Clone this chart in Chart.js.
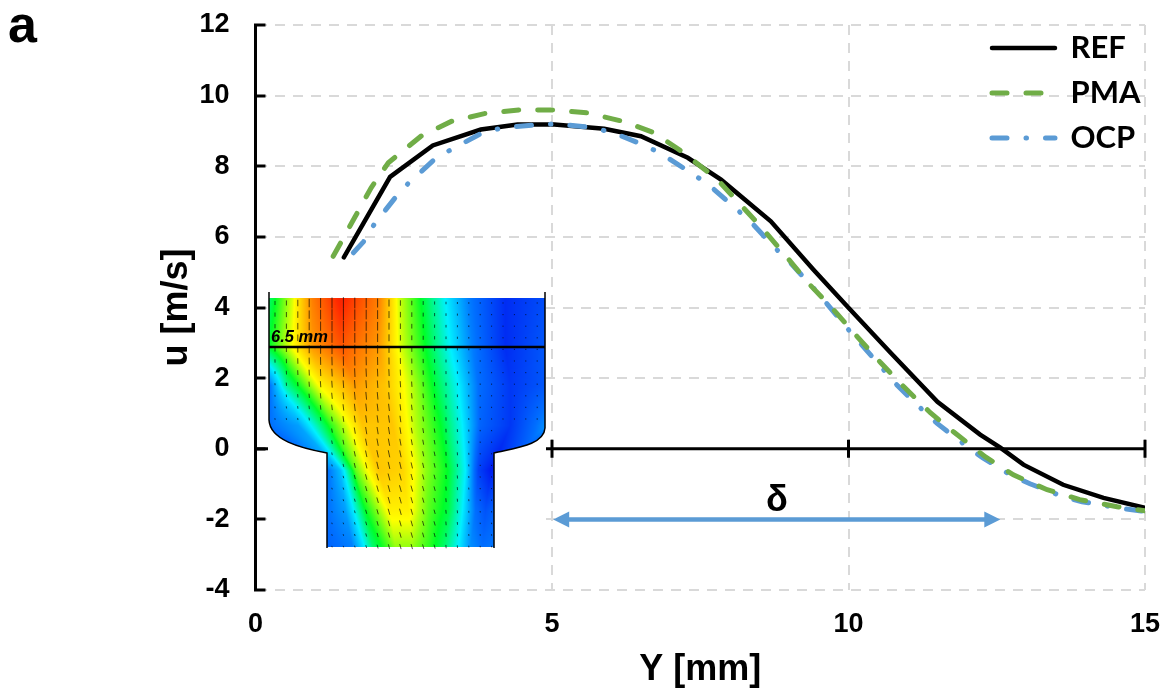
<!DOCTYPE html>
<html>
<head>
<meta charset="utf-8">
<style>
  html, body { margin: 0; padding: 0; background: #fff; }
  #chart { display: block; }
</style>
<script src="https://cdn.jsdelivr.net/npm/chart.js@4/dist/chart.umd.min.js"></script>
</head>
<body>
<canvas id="chart" width="1163" height="690"></canvas>
<script>
var refY = [1.49, 2.27, 2.99, 3.8, 4.42, 5.04, 5.88, 6.5, 7.29, 7.85, 8.69, 9.41, 10, 10.71, 11.5, 12.22, 12.56, 12.95, 13.62, 14.3, 15];
var refU = [5.42, 7.7, 8.59, 9.04, 9.18, 9.18, 9.06, 8.85, 8.24, 7.62, 6.44, 5.07, 3.99, 2.72, 1.33, 0.4, 0.03, -0.45, -1.02, -1.39, -1.67];
var pmaY = [1.31, 1.67, 1.95, 2.24, 2.79, 3.3, 3.86, 4.48, 5.04, 5.6, 6.2, 6.72, 7.22, 7.79, 8.52, 8.97, 9.3, 9.7, 10.15, 10.54, 10.93, 11.38, 11.77, 12.31, 12.78, 13.35, 13.9, 14.53, 15];
var pmaU = [5.45, 6.54, 7.39, 8.1, 8.85, 9.27, 9.49, 9.6, 9.59, 9.51, 9.27, 8.95, 8.38, 7.62, 6.29, 5.41, 4.73, 4.03, 3.17, 2.44, 1.76, 1.02, 0.48, -0.23, -0.74, -1.16, -1.44, -1.64, -1.76];
var ocpY = [1.65, 1.82, 2.0, 2.37, 2.59, 3.05, 3.33, 3.86, 4.19, 4.76, 5.1, 5.69, 6.03, 6.58, 6.87, 7.39, 7.64, 8.35, 8.74, 9, 9.39, 9.61, 10, 10.22, 10.62, 10.83, 11.26, 11.5, 12, 12.26, 12.73, 13.06, 13.62, 13.94, 14.53, 15];
var ocpU = [5.55, 5.86, 6.35, 7.14, 7.54, 8.24, 8.5, 8.98, 9.09, 9.18, 9.2, 9.09, 8.95, 8.58, 8.33, 7.76, 7.48, 6.43, 5.72, 5.3, 4.59, 4.16, 3.37, 2.95, 2.18, 1.78, 1.08, 0.71, 0.06, -0.25, -0.74, -0.99, -1.36, -1.5, -1.67, -1.78];

var deltaStart = 5.02;
var deltaEnd = 12.56;
var deltaLevel = -2;

function points(xs, ys) {
    return xs.map(function (x, i) { return { x: x, y: ys[i] }; });
}

// colour field of the inset, one row of contour knots per height
var fieldRows = [
    [298, [269, 292, 312, 340, 378, 398, 420, 445, 468, 505, 545], [.46, .62, .82, .97, .82, .62, .5, .36, .22, .08, .14]],
    [347, [269, 292, 312, 340, 378, 400, 425, 450, 472, 505, 545], [.5, .64, .78, .88, .78, .62, .5, .36, .22, .08, .16]],
    [385, [269, 285, 320, 355, 385, 408, 432, 458, 478, 510, 545], [.2, .42, .65, .78, .72, .62, .5, .36, .2, .1, .16]],
    [425, [269, 298, 330, 362, 392, 415, 440, 462, 480, 510, 545], [.2, .26, .52, .72, .72, .6, .5, .36, .18, .1, .24]],
    [470, [327, 340, 355, 378, 402, 425, 447, 465, 478, 490, 500], [.2, .3, .55, .72, .7, .58, .5, .36, .12, .05, .1]],
    [510, [327, 345, 365, 390, 408, 428, 448, 462, 475, 485, 500], [.2, .26, .5, .66, .66, .55, .48, .36, .2, .15, .2]],
    [547, [327, 352, 372, 395, 412, 430, 445, 458, 470, 482, 500], [.18, .22, .45, .58, .58, .52, .45, .36, .24, .2, .22]]
];
var jetStops = [
    [0, 0, 0, 235], [.2, 0, 110, 255], [.36, 0, 240, 255], [.5, 0, 255, 40],
    [.64, 255, 255, 0], [.8, 255, 140, 0], [.95, 255, 40, 0], [1, 240, 30, 0]
];

function jet(v) {
    for (var i = 1; i < jetStops.length; i++) {
        if (v <= jetStops[i][0]) {
            var a = jetStops[i - 1], b = jetStops[i];
            var t = (v - a[0]) / (b[0] - a[0]);
            return 'rgb(' + [1, 2, 3].map(function (k) { return Math.round(a[k] + (b[k] - a[k]) * t); }).join(',') + ')';
        }
    }
    return 'rgb(240,30,0)';
}

function fieldAt(x, y) {
    var r = 0;
    while (r < fieldRows.length - 2 && y > fieldRows[r + 1][0]) r++;
    var t = Math.max(0, Math.min(1, (y - fieldRows[r][0]) / (fieldRows[r + 1][0] - fieldRows[r][0])));
    var xs = fieldRows[r][1].map(function (v, i) { return v + (fieldRows[r + 1][1][i] - v) * t; });
    var vs = fieldRows[r][2].map(function (v, i) { return v + (fieldRows[r + 1][2][i] - v) * t; });
    if (x <= xs[0]) return vs[0];
    for (var i = 1; i < xs.length; i++) {
        if (x <= xs[i]) return vs[i - 1] + (vs[i] - vs[i - 1]) * (x - xs[i - 1]) / (xs[i] - xs[i - 1]);
    }
    return vs[vs.length - 1];
}

function insetPath(ctx) {
    ctx.beginPath();
    ctx.moveTo(269, 298);
    ctx.lineTo(269, 420);
    ctx.bezierCurveTo(270, 440, 300, 448, 327, 453);
    ctx.lineTo(327, 547);
    ctx.lineTo(494, 547);
    ctx.lineTo(494, 453);
    ctx.bezierCurveTo(515, 448, 544, 445, 545, 428);
    ctx.lineTo(545, 298);
    ctx.closePath();
}

// drop the room chart.js keeps for tick labels that hang over the plot edge
function noOverhang(s) {
    s.paddingTop = 0;
    s.paddingBottom = 0;
    s.paddingLeft = 0;
    s.paddingRight = 0;
}

// with point styles the legend reads the point, so take the line style from the dataset
function legendLabels(chart) {
    var items = Chart.defaults.plugins.legend.labels.generateLabels(chart);
    items.forEach(function (item) {
        var ds = chart.data.datasets[item.datasetIndex];
        item.lineDash = ds.borderDash || [];
        item.lineWidth = ds.borderWidth;
        item.lineCap = ds.borderCapStyle;
        item.strokeStyle = ds.borderColor;
    });
    return items;
}

var insetPlugin = {
    id: 'inset',
    afterLayout: function (chart) {
        // legend sits in the top right corner of the plot
        var l = chart.legend;
        l.left = 978;
        l.top = 18.5;
    },
    beforeDatasetsDraw: function (chart) {
        var ctx = chart.ctx, sx = chart.scales.x, sy = chart.scales.y;
        var zero = sy.getPixelForValue(0);
        ctx.save();

        // x axis line running through u = 0
        ctx.strokeStyle = '#000';
        ctx.lineWidth = 3;
        ctx.beginPath();
        ctx.moveTo(sx.left, zero);
        ctx.lineTo(sx.right, zero);
        [5, 10, 15].forEach(function (v) {
            var px = sx.getPixelForValue(v);
            ctx.moveTo(px, zero - 9);
            ctx.lineTo(px, zero + 9);
        });
        ctx.stroke();

        // inset picture has a white backing that hides the grid
        ctx.fillStyle = '#fff';
        ctx.fillRect(268, 288, 278, 266);

        ctx.save();
        insetPath(ctx);
        ctx.clip();
        for (var y = 298; y < 548; y++) {
            for (var x = 269; x < 546; x++) {
                ctx.fillStyle = jet(fieldAt(x, y));
                ctx.fillRect(x, y, 1, 1);
            }
        }
        ctx.restore();

        // velocity arrows
        ctx.strokeStyle = 'rgba(0,0,0,0.65)';
        ctx.lineWidth = 1;
        ctx.beginPath();
        for (var qy = 303; qy < 552; qy += 11.6) {
            for (var qx = 275; qx < 542; qx += 11.4) {
                var inShape = qy < 425 || (qx > 327 && qx < 494);
                if (!inShape) continue;
                var v = fieldAt(qx, qy);
                var len = 1 + Math.pow(v, 2) * 12;
                var tilt = qy > 350 ? Math.min(0.28, (qy - 350) / 500) * (qx < 440 ? 1 : 0.3) : 0;
                ctx.moveTo(qx - tilt * len / 2, qy - len / 2);
                ctx.lineTo(qx + tilt * len / 2, qy + len / 2);
            }
        }
        ctx.stroke();

        // outline
        ctx.strokeStyle = '#000';
        ctx.lineWidth = 1.5;
        ctx.beginPath();
        ctx.moveTo(269, 292);
        ctx.lineTo(269, 420);
        ctx.bezierCurveTo(270, 440, 300, 448, 327, 453);
        ctx.lineTo(327, 548);
        ctx.moveTo(545, 292);
        ctx.lineTo(545, 428);
        ctx.bezierCurveTo(544, 445, 515, 448, 494, 453);
        ctx.lineTo(494, 548);
        ctx.stroke();

        ctx.lineWidth = 2.5;
        ctx.beginPath();
        ctx.moveTo(269, 347);
        ctx.lineTo(545, 347);
        ctx.stroke();

        ctx.fillStyle = '#000';
        ctx.font = 'italic bold 16.5px "Liberation Sans"';
        ctx.textAlign = 'left';
        ctx.textBaseline = 'alphabetic';
        ctx.fillText('6.5 mm', 271, 342);
        ctx.restore();
    },
    afterDatasetsDraw: function (chart) {
        var ctx = chart.ctx, sx = chart.scales.x, sy = chart.scales.y;
        var x1 = sx.getPixelForValue(deltaStart), x2 = sx.getPixelForValue(deltaEnd);
        var y0 = sy.getPixelForValue(deltaLevel);
        ctx.save();
        ctx.strokeStyle = '#5b9bd5';
        ctx.fillStyle = '#5b9bd5';
        ctx.lineWidth = 4.5;
        ctx.beginPath();
        ctx.moveTo(x1 + 12, y0);
        ctx.lineTo(x2 - 12, y0);
        ctx.stroke();
        ctx.beginPath();
        ctx.moveTo(x1, y0);
        ctx.lineTo(x1 + 16, y0 - 8);
        ctx.lineTo(x1 + 16, y0 + 8);
        ctx.closePath();
        ctx.moveTo(x2, y0);
        ctx.lineTo(x2 - 16, y0 - 8);
        ctx.lineTo(x2 - 16, y0 + 8);
        ctx.closePath();
        ctx.fill();

        ctx.fillStyle = '#000';
        ctx.textAlign = 'center';
        ctx.textBaseline = 'alphabetic';
        ctx.font = 'bold 36px "Liberation Sans"';
        ctx.fillText('δ', 777, 511);
        ctx.textAlign = 'left';
        ctx.font = 'bold 52px "Liberation Sans"';
        ctx.fillText('a', 8, 42);
        ctx.restore();
    }
};

new Chart(document.getElementById('chart').getContext('2d'), {
    type: 'scatter',
    data: {
        datasets: [{
            label: 'REF',
            data: points(refY, refU),
            showLine: true,
            borderColor: '#000',
            backgroundColor: '#000',
            borderWidth: 4.5,
            borderCapStyle: 'round',
            pointRadius: 0,
            order: 3
        }, {
            label: 'PMA',
            data: points(pmaY, pmaU),
            showLine: true,
            borderColor: '#70ad47',
            backgroundColor: '#70ad47',
            borderWidth: 5,
            borderDash: [15, 19],
            borderCapStyle: 'round',
            pointRadius: 0,
            order: 1
        }, {
            label: 'OCP',
            data: points(ocpY, ocpU),
            showLine: true,
            borderColor: '#5b9bd5',
            backgroundColor: '#5b9bd5',
            borderWidth: 5,
            borderDash: [15, 19, 0.5, 19],
            borderCapStyle: 'round',
            pointRadius: 0,
            order: 2
        }]
    },
    options: {
        responsive: false,
        devicePixelRatio: 1,
        animation: false,
        layout: { padding: { top: 25, right: 18, left: 0, bottom: 0 } },
        plugins: {
            tooltip: { enabled: false },
            legend: {
                position: 'chartArea',
                align: 'start',
                labels: {
                    usePointStyle: true,
                    pointStyle: 'line',
                    pointStyleWidth: 63,
                    boxHeight: 10,
                    padding: 14,
                    color: '#000',
                    font: { family: 'Lato', weight: 'bold', size: 31 },
                    generateLabels: legendLabels,
                    sort: function (a, b) { return a.datasetIndex - b.datasetIndex; }
                }
            }
        },
        scales: {
            x: {
                type: 'linear',
                min: 0,
                max: 15,
                afterFit: function (s) { s.height = 100; noOverhang(s); },
                afterTickToLabelConversion: function (s) {
                    s.ticks = s.ticks.filter(function (t) { return t.value % 5 === 0; });
                },
                ticks: {
                    stepSize: 5,
                    maxRotation: 0,
                    padding: 18,
                    color: '#000',
                    font: { family: 'Liberation Sans', weight: 'bold', size: 27 }
                },
                grid: { color: '#d9d9d9', lineWidth: 2, drawTicks: false },
                border: { display: false, dash: [10, 8] },
                title: {
                    display: true,
                    text: 'Y [mm]',
                    color: '#000',
                    padding: { top: 0, bottom: -2 },
                    font: { family: 'Liberation Sans', weight: 'bold', size: 36 }
                }
            },
            y: {
                min: -4,
                max: 12,
                afterFit: function (s) { s.width = 255.5; noOverhang(s); },
                ticks: {
                    stepSize: 2,
                    padding: 36,
                    color: '#000',
                    font: { family: 'Liberation Sans', weight: 'bold', size: 27 }
                },
                grid: { color: '#d9d9d9', lineWidth: 2, tickLength: -10, tickColor: '#000', tickWidth: 3 },
                border: { color: '#000', width: 3, dash: [10, 8] },
                title: {
                    display: true,
                    text: 'u [m/s]',
                    color: '#000',
                    padding: { top: 155, bottom: 0 },
                    font: { family: 'Liberation Sans', weight: 'bold', size: 36 }
                }
            }
        }
    },
    plugins: [insetPlugin]
});
</script>
</body>
</html>
